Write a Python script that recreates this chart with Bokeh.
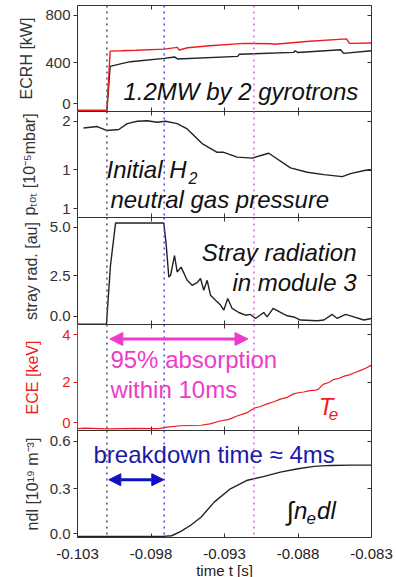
from bokeh.plotting import figure
from bokeh.models import (Span, Label, Arrow, NormalHead, LinearAxis, FixedTicker,
                          Range1d, PrintfTickFormatter)
from bokeh.layouts import column
from bokeh.embed import file_html
from bokeh.resources import INLINE

# ---------------- data ----------------
x_ticks = [-0.103, -0.098, -0.093, -0.088, -0.083]

# ECRH power [kW]
t_ecrh_tot = [-0.103, -0.1010, -0.10078, -0.1000, -0.0990, -0.0971, -0.0962, -0.09608, -0.0955,
              -0.0940, -0.0917, -0.0898, -0.0896, -0.0872, -0.0847, -0.0845, -0.083]
ecrh_tot = [0, 0, 500, 503, 507, 517, 531, 509, 528, 545, 565, 562, 558, 583, 603, 565, 568]
t_ecrh_part = [-0.103, -0.1010, -0.10078, -0.1000, -0.0994, -0.0971, -0.0964, -0.0962, -0.0921,
               -0.0920, -0.0883, -0.0882, -0.0880, -0.0851, -0.0849, -0.083]
ecrh_part = [0, 0, 371, 395, 411, 439, 451, 434, 456, 473, 489, 503, 488, 511, 481, 503]

# neutral gas pressure [1e-5 mbar]
t_p = [-0.10259, -0.10166, -0.10103, -0.10019, -0.09962, -0.09894, -0.09826, -0.09758, -0.09701,
       -0.09622, -0.09554, -0.09452, -0.09350, -0.09305, -0.09214, -0.09112, -0.08999, -0.08851,
       -0.08737, -0.08624, -0.08499, -0.08443, -0.08341, -0.08300]
p_tot = [1.86, 1.89, 1.81, 1.83, 1.95, 2.0, 2.01, 1.98, 2.0, 1.95, 1.84, 1.54, 1.36, 1.36, 1.26,
         1.24, 1.34, 1.04, 0.95, 0.90, 0.86, 0.92, 0.99, 0.99]

# stray radiation [au]
t_stray = [-0.103, -0.10103, -0.10076, -0.10041, -0.09713, -0.09697, -0.09679, -0.09667, -0.09640,
           -0.09622, -0.09595, -0.09554, -0.09520, -0.09486, -0.09463, -0.09441, -0.09418, -0.09395,
           -0.09361, -0.09327, -0.09305, -0.09278, -0.09248, -0.09203, -0.09157, -0.09123, -0.09089,
           -0.09033, -0.09010, -0.08969, -0.08919, -0.08873, -0.08829, -0.08783, -0.08669, -0.08624,
           -0.08567, -0.08533, -0.08477, -0.08420, -0.08352, -0.08300]
stray = [0, 0, 3.0, 5.22, 5.22, 4.14, 2.43, 2.52, 3.54, 2.69, 2.94, 2.26, 2.0, 2.14, 2.35, 1.75,
         2.26, 1.49, 1.23, 0.98, 0.72, 1.32, 0.81, 0.6, 0.46, 0.5, 0.29, 0.6, 0.37, 0.81, 0.6, 0.43,
         0.37, 0.21, 0.17, 0.21, 0.5, 0.29, 0.5, 0.37, 0.21, 0.29]

# ECE electron temperature [keV]
t_ece = [-0.103, -0.1025, -0.1010, -0.0990, -0.0975, -0.0969, -0.0960, -0.0946, -0.0940, -0.0933,
         -0.0927, -0.0921, -0.0915, -0.0910, -0.0906, -0.0901, -0.0896, -0.0892, -0.0888, -0.0883,
         -0.0879, -0.0876, -0.0872, -0.0868, -0.0866, -0.0863, -0.0859, -0.0856, -0.0852, -0.0848,
         -0.0845, -0.0842, -0.0837, -0.0834, -0.0830]
ece = [0.06, 0.08, 0.05, 0.07, 0.06, 0.12, 0.18, 0.2, 0.26, 0.38, 0.45, 0.6, 0.72, 0.92, 0.98,
       1.1, 1.2, 1.3, 1.36, 1.52, 1.58, 1.6, 1.66, 1.68, 1.72, 1.92, 2.0, 2.12, 2.18, 2.28, 2.32,
       2.4, 2.52, 2.6, 2.73]

# line integrated density [1e19 m^-3]
t_ndl = [-0.103, -0.0972, -0.0966, -0.0960, -0.0953, -0.0946, -0.0937, -0.0926, -0.0915, -0.0903,
         -0.0892, -0.0880, -0.0869, -0.0858, -0.0845, -0.083]
ndl = [0, 0, 0.004, 0.03, 0.07, 0.121, 0.216, 0.3, 0.352, 0.378, 0.405, 0.426, 0.441, 0.447,
       0.449, 0.449]

# event times [s]
t_ecrh_on = -0.101
t_breakdown = -0.0971
t_absorb = -0.091

FONT = "Liberation Sans"
AX = "#333333"
RED = "#ee1c1c"
PINK = "#ee3bcc"
NAVY = "#1a1aa8"


def panel(yr, frame_h, top, bottom):
    p = figure(frame_width=294, frame_height=frame_h,
               x_range=Range1d(-0.103, -0.083), y_range=Range1d(*yr),
               x_axis_location=None, y_axis_location=None,
               output_backend="svg", toolbar_location=None,
               min_border_left=77, min_border_right=25,
               min_border_top=top, min_border_bottom=bottom)
    p.outline_line_color = None
    p.grid.visible = False
    return p


def bare_axis(ticks):
    return LinearAxis(ticker=FixedTicker(ticks=ticks), major_tick_in=4, major_tick_out=0,
                      major_label_text_font_size="1px", major_label_text_color=None,
                      major_label_standoff=0, axis_line_color=AX, major_tick_line_color=AX)


def add_axes(p, yticks, ylabels, ylabel, standoff, color=AX, bottom_labels=False):
    left = LinearAxis(ticker=FixedTicker(ticks=yticks),
                      major_label_overrides=dict(zip(yticks, ylabels)),
                      axis_label=ylabel, axis_label_standoff=standoff,
                      major_tick_in=0, major_tick_out=4, major_label_standoff=3,
                      axis_line_color=color, major_tick_line_color=color,
                      major_label_text_color=color, axis_label_text_color=color,
                      major_label_text_font=FONT, major_label_text_font_size="15px",
                      axis_label_text_font=FONT, axis_label_text_font_size="16px",
                      axis_label_text_font_style="normal")
    p.add_layout(left, "left")
    p.add_layout(bare_axis(yticks[1:]), "right")
    p.add_layout(bare_axis(x_ticks), "above")
    if bottom_labels:
        bot = LinearAxis(ticker=FixedTicker(ticks=x_ticks), major_tick_in=4, major_tick_out=0,
                         formatter=PrintfTickFormatter(format="%.3f"),
                         major_label_standoff=11, axis_label="time t [s]",
                         axis_label_standoff=0,
                         major_label_text_font=FONT, major_label_text_font_size="15px",
                         major_label_text_color="#222222",
                         axis_label_text_font=FONT, axis_label_text_font_size="15px",
                         axis_label_text_font_style="normal", axis_label_text_color="#222222",
                         axis_line_color=AX, major_tick_line_color=AX)
        p.add_layout(bot, "below")
    else:
        p.add_layout(bare_axis(x_ticks), "below")


def add_spans(p):
    p.add_layout(Span(location=t_ecrh_on, dimension="height", line_color="#5a5a70",
                      line_dash="2 4", line_width=1.6))
    p.add_layout(Span(location=t_breakdown, dimension="height", line_color="#5555dd",
                      line_dash="2 4", line_width=1.6))
    p.add_layout(Span(location=t_absorb, dimension="height", line_color="#ee66ee",
                      line_dash="2 4", line_width=1.6))


def label(p, x, y, text, size="24px", color="#111111", style="italic", align="left"):
    p.add_layout(Label(x=x, y=y, text=text, text_font=FONT, text_font_size=size,
                       text_color=color, text_font_style=style, text_align=align,
                       text_baseline="alphabetic"))


# ---- panel 1: ECRH ----
p1 = panel((-8.4, 884), 106, 5, 0)
p1.line(t_ecrh_part, ecrh_part, line_color="#222222", line_width=1.4)
p1.line(t_ecrh_tot, ecrh_tot, line_color=RED, line_width=1.4)
add_axes(p1, [55, 400, 800], ["0", "400", "800"], "ECRH [kW]", 7)
add_spans(p1)
label(p1, -0.09987, 164, "1.2MW by 2 gyrotrons")

# ---- panel 2: pressure ----
p2 = panel((0.018, 2.2), 106, 0, 0)
p2.line(t_p, p_tot, line_color="#222222", line_width=1.4)
add_axes(p2, [0.2, 1, 2], ["1", "1", "2"], "pₜₒₜ [10⁻⁵mbar]", 21)
add_spans(p2)
label(p2, -0.10103, 0.996, "Initial H")
label(p2, -0.09545, 0.833, "2", size="16px")
label(p2, -0.10076, 0.379, "neutral gas pressure")

# ---- panel 3: stray radiation ----
p3 = panel((-0.02, 5.5), 107, 0, 0)
p3.line(t_stray, stray, line_color="#222222", line_width=1.4)
add_axes(p3, [0.4, 2.5, 5.0], ["0.0", "2.5", "5.0"], "stray rad. [au]", 7)
add_spans(p3)
label(p3, -0.08402, 3.715, "Stray radiation", align="right")
label(p3, -0.08402, 2.125, "in module 3", align="right")

# ---- panel 4: ECE ----
p4 = panel((-0.02, 4.44), 106, 0, 0)
p4.line(t_ece, ece, line_color=RED, line_width=1.2)
add_axes(p4, [0.3, 2, 4], ["0", "2", "4"], "ECE [keV]", 18, color=RED)
add_spans(p4)
p4.add_layout(Arrow(x_start=-0.1008, y_start=3.83, x_end=-0.0914, y_end=3.83,
                    line_color=PINK, line_width=3,
                    start=NormalHead(size=13, fill_color=PINK, line_color=PINK),
                    end=NormalHead(size=13, fill_color=PINK, line_color=PINK)))
label(p4, -0.10076, 2.958, "95% absorption", color=PINK, style="normal")
label(p4, -0.10076, 1.688, "within 10ms", color=PINK, style="normal")
label(p4, -0.08658, 0.988, "T", color=RED)
label(p4, -0.08590, 0.68, "e", size="17px", color=RED)

# ---- panel 5: ndl ----
p5 = panel((-0.007, 0.667), 107, 0, 40)
p5.line(t_ndl, ndl, line_color="#222222", line_width=1.4)
add_axes(p5, [0.016, 0.3, 0.6], ["0.0", "0.3", "0.6"], "ndl [10¹⁹ m⁻³]", 6, bottom_labels=True)
add_spans(p5)
p5.add_layout(Arrow(x_start=-0.10087, y_start=0.357, x_end=-0.09713, y_end=0.357,
                    line_color="#1010c8", line_width=3,
                    start=NormalHead(size=12, fill_color="#1010c8", line_color="#1010c8"),
                    end=NormalHead(size=12, fill_color="#1010c8", line_color="#1010c8")))
label(p5, -0.10191, 0.513, "breakdown time ≈ 4ms", color=NAVY, style="normal")
label(p5, -0.08878, 0.157, "∫", size="26px", style="normal")
label(p5, -0.08828, 0.165, "n")
label(p5, -0.08742, 0.117, "e", size="17px")
label(p5, -0.08670, 0.165, "dl")

layout = column(p1, p2, p3, p4, p5, spacing=0)
open("out.html", "w").write(file_html(layout, INLINE))
